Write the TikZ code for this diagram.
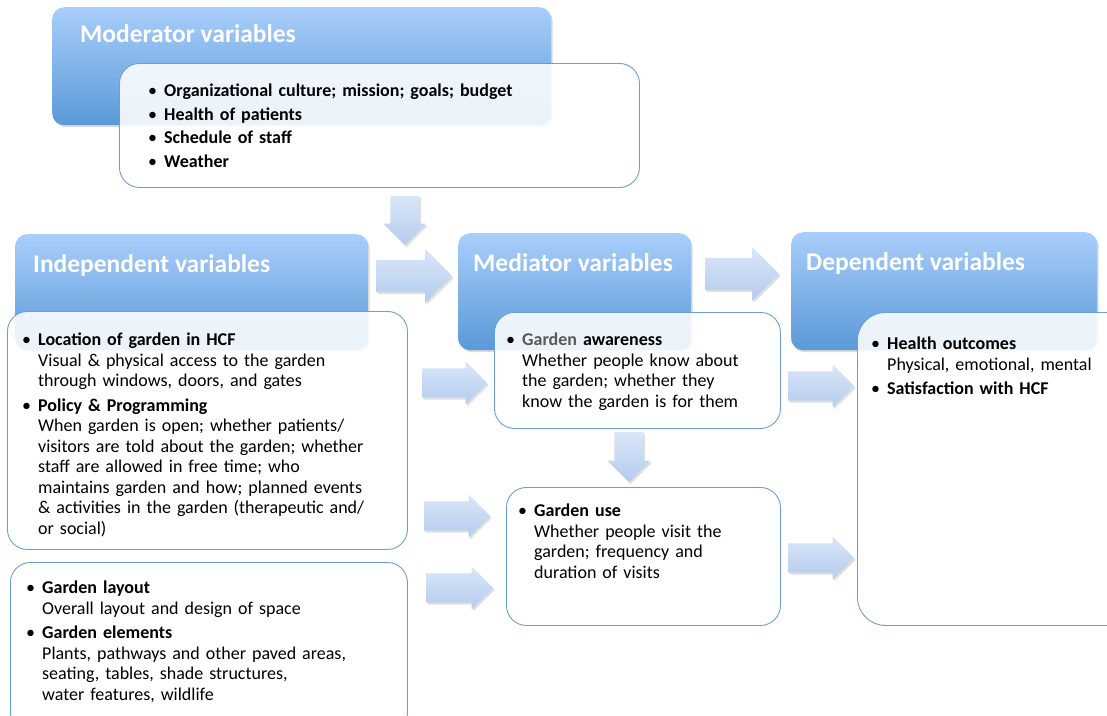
\documentclass[tikz,border=0pt]{standalone}
\usepackage{fontspec}
\setmainfont{Carlito}
\usetikzlibrary{shapes.arrows, shadows, calc}

\definecolor{headtop}{HTML}{A9CEFA}
\definecolor{headbot}{HTML}{5A99D8}
\definecolor{boxline}{HTML}{6C9ED6}
\definecolor{arrtop}{HTML}{D9E6F8}
\definecolor{arrbot}{HTML}{B4CCEE}
\definecolor{greytxt}{HTML}{595959}

% bullet item: bold title, then plain description lines
\newcommand{\bitem}[2]{\par\noindent\makebox[16pt][l]{\textbullet}%
  \begin{tabular}[t]{@{}l@{}}\textbf{#1}\\#2\end{tabular}\par\vspace{3pt}}
% bullet item with title only
\newcommand{\bonly}[1]{\par\noindent\makebox[16pt][l]{\textbullet}%
  \begin{tabular}[t]{@{}l@{}}\textbf{#1}\end{tabular}\par\vspace{3pt}}

\begin{document}
\begin{tikzpicture}[x=1pt, y=-1pt,
    headbox/.style={rounded corners=12pt, anchor=north west, inner sep=0pt,
      top color=headtop, bottom color=headbot,
      drop shadow={opacity=0.3, shadow xshift=1.5pt, shadow yshift=-2pt}},
    headtxt/.style={anchor=base west, inner sep=0pt, text=white,
      font=\fontsize{25.5}{30}\selectfont\bfseries},
    contbox/.style={rounded corners=20pt, anchor=north west, inner sep=0pt,
      draw=boxline, line width=0.9pt, fill=white, fill opacity=0.88},
    conttxt/.style={anchor=north west, inner sep=0pt, text width=#1,
      font=\fontsize{18}{20.5}\selectfont},
    blockarrow/.style={single arrow, single arrow head extend=#1,
      inner sep=0pt, anchor=tail, shading angle=0,
      top color=arrtop, bottom color=arrbot,
      drop shadow={opacity=0.25, shadow xshift=1.5pt, shadow yshift=-2pt}},
    blockarrow/.default=7pt,
    rightarrow/.style={inner ysep=#1},
    downarrow/.style={inner xsep=#1, shape border rotate=270}
  ]
  \clip (0,0) rectangle (1107,715);
  \useasboundingbox (0,0) rectangle (1107,715);

  % headers
  \node[headbox, minimum width=499, minimum height=118] (modhead) at (52,7) {};
  \node[headbox, minimum width=353, minimum height=116] (indhead) at (15,234) {};
  \node[headbox, minimum width=233, minimum height=117] (medhead) at (458,233) {};
  \node[headbox, minimum width=306, minimum height=118] (dephead) at (791,232) {};

  \node[headtxt] (modtitle) at (80,42) {Moderator variables};
  \node[headtxt] (indtitle) at (33,272) {Independent variables};
  \node[headtxt] (medtitle) at (473,271) {Mediator variables};
  \node[headtxt] (deptitle) at (806,270) {Dependent variables};

  % content boxes
  \node[contbox, minimum width=520, minimum height=124] (modbox) at (119,63) {};
  \node[contbox, minimum width=400, minimum height=238] (locbox) at (7,311) {};
  \node[contbox, minimum width=397, minimum height=170] (laybox) at (10,562) {};
  \node[contbox, minimum width=286, minimum height=116] (awarebox) at (494,312) {};
  \node[contbox, minimum width=274, minimum height=138] (usebox) at (506,487) {};
  \node[contbox, minimum width=290, minimum height=313, rounded corners=28pt] (depbox) at (857,312) {};

  % block arrows
  \node[blockarrow, downarrow=14.5pt, minimum height=49] (modtomed) at (405,196) {};
  \node[blockarrow=11pt, rightarrow=16pt, minimum height=76] (indtomed) at (376,276) {};
  \node[blockarrow=11pt, rightarrow=16pt, minimum height=74] (medtodep) at (705,274) {};
  \node[blockarrow, rightarrow=14.5pt, minimum height=65] (loctoaware) at (422,383) {};
  \node[blockarrow, downarrow=14.5pt, minimum height=50] (awaretouse) at (629,432) {};
  \node[blockarrow, rightarrow=14.5pt, minimum height=66] (loctouse) at (424,516) {};
  \node[blockarrow, rightarrow=14.5pt, minimum height=67] (laytouse) at (426,588) {};
  \node[blockarrow, rightarrow=14.5pt, minimum height=66] (awaretodep) at (788,386) {};
  \node[blockarrow, rightarrow=14.5pt, minimum height=66] (usetodep) at (788,558) {};

  % texts
  \node[conttxt=460] (modtxt) at (148,76) {%
    \bonly{Organizational culture; mission; goals; budget}%
    \bonly{Health of patients}%
    \bonly{Schedule of staff}%
    \bonly{Weather}};
  \node[conttxt=400] (loctxt) at (22,325) {%
    \bitem{Location of garden in HCF}{Visual \& physical access to the garden\\
      through windows, doors, and gates}%
    \bitem{Policy \& Programming}{When garden is open; whether patients/\\
      visitors are told about the garden; whether\\
      staff are allowed in free time; who\\
      maintains garden and how; planned events\\
      \& activities in the garden (therapeutic and/\\
      or social)}};
  \node[conttxt=400] (laytxt) at (26,573) {%
    \bitem{Garden layout}{Overall layout and design of space}%
    \bitem{Garden elements}{Plants, pathways and other paved areas,\\
      seating, tables, shade structures,\\
      water features, wildlife}};
  \node[conttxt=280] (awaretxt) at (506,325) {%
    \bitem{\textcolor{greytxt}{Garden} awareness}{Whether people know about\\
      the garden; whether they\\
      know the garden is for them}};
  \node[conttxt=270] (usetxt) at (518,496) {%
    \bitem{Garden use}{Whether people visit the\\
      garden; frequency and\\
      duration of visits}};
  \node[conttxt=260] (deptxt) at (871,329) {%
    \bitem{Health outcomes}{Physical, emotional, mental}%
    \bonly{Satisfaction with HCF}};
\end{tikzpicture}
\end{document}
